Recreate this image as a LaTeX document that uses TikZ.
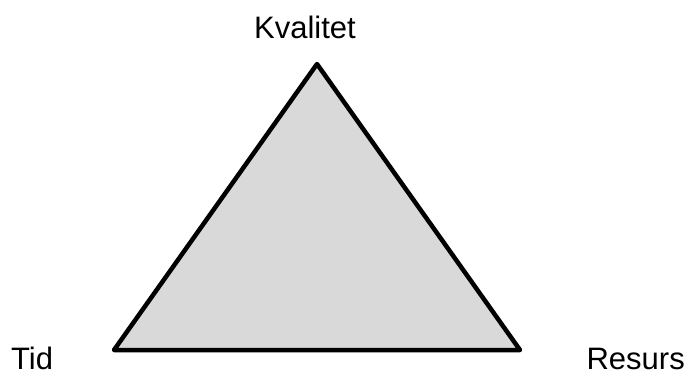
\documentclass[tikz,border=0pt]{standalone}
\usepackage{fontspec}
\setmainfont{Liberation Sans}
\begin{document}
\begin{tikzpicture}[x=1pt,y=-1pt,
  lbl/.style={font=\fontsize{31}{36}\selectfont, inner sep=0pt}]
\useasboundingbox (0,0) rectangle (690,376);
\coordinate (top) at (317,64);
\coordinate (bl) at (114,350);
\coordinate (br) at (520,350);
\draw[line width=4.5pt, line join=round, fill={rgb,255:red,217;green,217;blue,217}] (top) -- (br) -- (bl) -- cycle;
\node[lbl, anchor=base] (kval) at (305,38) {Kvalitet};
\node[lbl, anchor=base west] (tid) at (11,369) {Tid};
\node[lbl, anchor=base east] (res) at (685,369) {Resurs};
\end{tikzpicture}
\end{document}
